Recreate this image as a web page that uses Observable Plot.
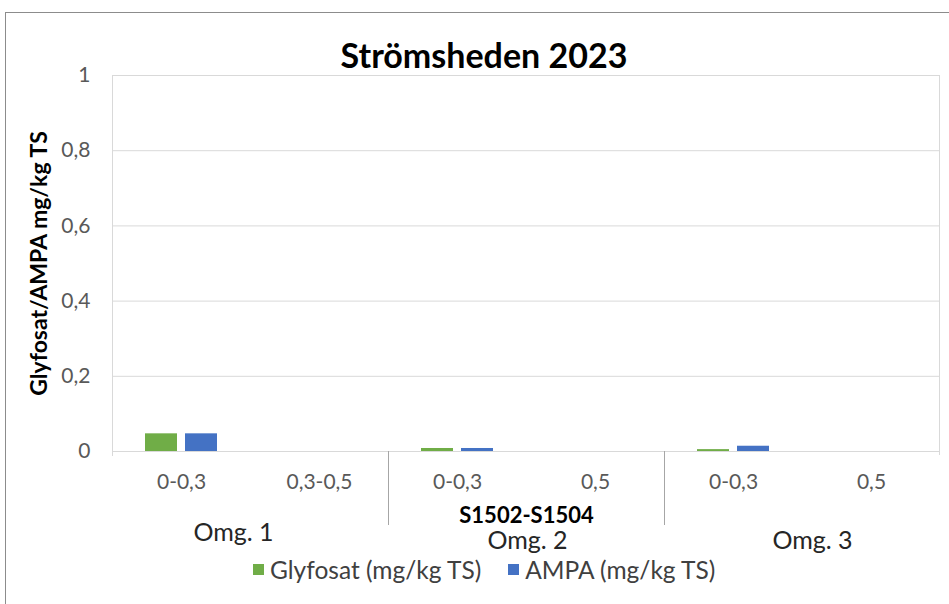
<!DOCTYPE html>
<html>
<head>
<meta charset="utf-8">
<script src="https://cdn.jsdelivr.net/npm/d3@7"></script>
<script src="https://cdn.jsdelivr.net/npm/@observablehq/plot@0.6"></script>
<style>
  body { margin: 0; background: #fff; font-family: Lato, sans-serif; }
  #wrap { position: relative; width: 949px; height: 604px; overflow: hidden; background: #fff; }
  #border { position: absolute; left: 5px; top: 12px; width: 2000px; height: 2000px;
            border-left: 1px solid #8c8c8c; border-top: 1px solid #8c8c8c; pointer-events: none; }
  #title { position: relative; height: 60px; }
  #title span { position: absolute; left: 19px; right: 0; top: 35px; line-height: 40px; text-align: center;
                font-weight: 700; font-size: 34px; color: #000; }
  #legend { display: flex; align-items: center; padding-left: 253px; box-sizing: border-box;
            height: 28px; font-size: 24.5px; color: #404040; }
  .item { display: flex; align-items: center; margin-right: 24px; }
  .item + .item { margin-left: 3px; }
  .sw { width: 11px; height: 11px; margin-right: 6px; }
  svg { display: block; }
</style>
</head>
<body>
<div id="wrap">
  <div id="title"><span></span></div>
  <div id="chart"></div>
  <div id="legend"></div>
  <div id="border"></div>
</div>
<script>
// ---- data ----
const chartTitle = "Strömsheden 2023";
const yTitle = "Glyfosat/AMPA mg/kg TS";
const xTitle = "S1502-S1504";
const categories = ["0-0,3", "0,3-0,5", "0-0,3", "0,5", "0-0,3", "0,5"];
const groups = ["Omg. 1", "Omg. 1", "Omg. 2", "Omg. 2", "Omg. 3", "Omg. 3"];
const series = ["Glyfosat (mg/kg TS)", "AMPA (mg/kg TS)"];
const seriesColors = ["#70AD47", "#4472C4"];
const glyfosat = [0.047, null, 0.008, null, 0.005, null];
const ampa = [0.047, null, 0.008, null, 0.014, null];
const yTicks = [0, 0.2, 0.4, 0.6, 0.8, 1];

// ---- build rows ----
const rows = [];
categories.forEach((c, i) => {
  rows.push({i, serie: series[0], value: glyfosat[i]});
  rows.push({i, serie: series[1], value: ampa[i]});
});
const groupNames = [...new Set(groups)];
const groupCenter = groupNames.map(g => {
  const idx = groups.map((d, i) => d === g ? i : -1).filter(i => i >= 0);
  return idx[0] + idx.length / 2;
});
const groupOffsets = [{dx: -17, dy: 89}, {dx: 1, dy: 97}, {dx: 10, dy: 97}];

document.querySelector("#title span").textContent = chartTitle;

const chart = Plot.plot({
  width: 949,
  height: 495,
  marginLeft: 111,
  marginRight: 9,
  marginTop: 15,
  marginBottom: 104,
  style: {fontFamily: "Lato, sans-serif", background: "transparent"},
  fx: {domain: d3.range(categories.length), padding: 0},
  x: {domain: series, paddingInner: 0.2, paddingOuter: 0.825, axis: null},
  y: {domain: [0, 1], axis: null},
  color: {domain: series, range: seriesColors},
  marks: [
    Plot.gridY(yTicks, {stroke: "#d9d9d9", strokeOpacity: 1}),
    Plot.ruleY([0], {stroke: "#d9d9d9"}),
    Plot.barY(rows.filter(d => d.value != null), {fx: "i", x: "serie", y: "value", fill: "serie"}),
    Plot.axisY({ticks: yTicks, tickSize: 0, tickPadding: 22, fontSize: 21, fill: "#595959",
                tickFormat: d => String(d).replace(".", ","), label: null}),
    Plot.axisFx({anchor: "bottom", tickSize: 0, tickPadding: 23, fontSize: 21, fill: "#595959",
                 tickFormat: i => categories[i], label: null}),
    Plot.text([yTitle], {fx: () => 0, text: d => d, frameAnchor: "left", textAnchor: "middle",
                         rotate: -90, dx: -73, fontSize: 23, fontWeight: "bold", fill: "#000"}),
    Plot.text([xTitle], {fx: () => categories.length / 2, text: d => d, frameAnchor: "bottom-left",
                         textAnchor: "middle", dy: 71, fontSize: 22, fontWeight: "bold", fill: "#000"}),
    ...groupNames.map((g, k) => Plot.text([g], {fx: () => groupCenter[k], text: d => d,
                         frameAnchor: "bottom-left", textAnchor: "middle",
                         dx: groupOffsets[k].dx, dy: groupOffsets[k].dy,
                         fontSize: 25, fill: "#262626"}))
  ]
});

// border lines and group separators, positioned with the plot's own scales
const fxs = chart.scale("fx");
const ys = chart.scale("y");
const bw = fxs.bandwidth;
const y0 = ys.apply(0), y1 = ys.apply(1);
const g = d3.select(chart).append("g").attr("fill", "none");
const xL = fxs.apply(0), xR = fxs.apply(categories.length - 1) + bw;
g.append("line").attr("x1", xL + 0.5).attr("x2", xL + 0.5).attr("y1", y1).attr("y2", y0 + 5).attr("stroke", "#d9d9d9");
g.append("line").attr("x1", xR - 0.5).attr("x2", xR - 0.5).attr("y1", y1).attr("y2", y0 + 4).attr("stroke", "#d9d9d9");
groups.forEach((d, i) => {
  if (i > 0 && groups[i - 1] !== d) {
    const x = Math.round(fxs.apply(i)) + 0.5;
    g.append("line").attr("x1", x).attr("x2", x).attr("y1", y0).attr("y2", y0 + 74).attr("stroke", "#a6a6a6");
  }
});

document.getElementById("chart").append(chart);

// legend
const legend = d3.select("#legend");
series.forEach((s, k) => {
  const it = legend.append("div").attr("class", "item");
  it.append("div").attr("class", "sw").style("background", seriesColors[k]);
  it.append("span").text(s);
});
</script>
</body>
</html>
